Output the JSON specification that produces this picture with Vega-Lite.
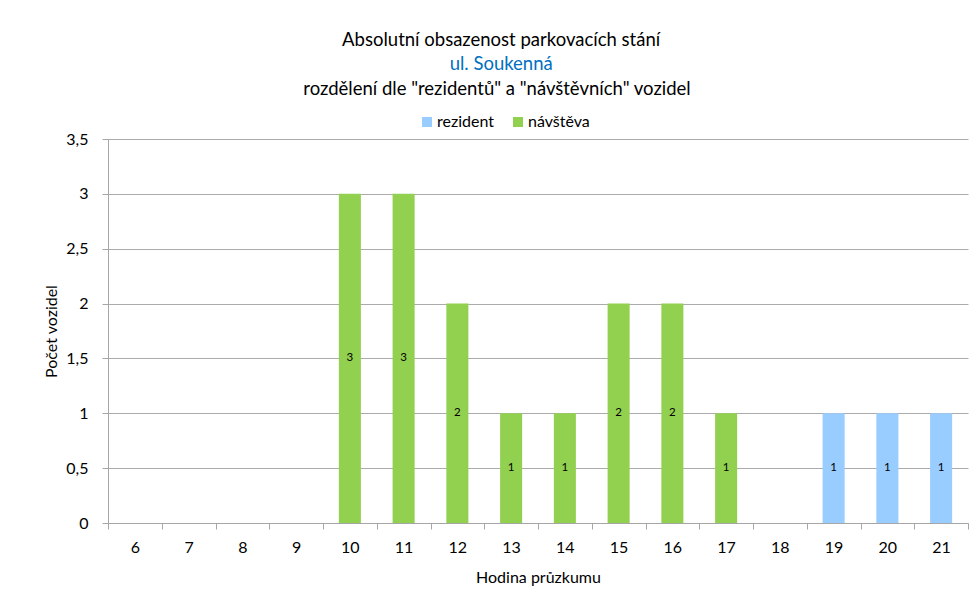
{
  "$schema": "https://vega.github.io/schema/vega-lite/v6.json",
  "background": "white",
  "padding": {"left": 43, "top": 30, "right": 6, "bottom": 10},
  "title": {
    "text": "Absolutní obsazenost parkovacích stání",
    "subtitle": "ul. Soukenná",
    "anchor": "middle",
    "font": "Lato",
    "fontSize": 18.5,
    "fontWeight": "normal",
    "color": "#000000",
    "subtitleFont": "Lato",
    "subtitleFontSize": 18.5,
    "subtitleColor": "#0070C0",
    "subtitlePadding": 6,
    "offset": 6,
    "dx": -5
  },
  "datasets": {
    "counts": [
      {"hour": 6, "type": "rezident", "count": 0},
      {"hour": 6, "type": "návštěva", "count": 0},
      {"hour": 7, "type": "rezident", "count": 0},
      {"hour": 7, "type": "návštěva", "count": 0},
      {"hour": 8, "type": "rezident", "count": 0},
      {"hour": 8, "type": "návštěva", "count": 0},
      {"hour": 9, "type": "rezident", "count": 0},
      {"hour": 9, "type": "návštěva", "count": 0},
      {"hour": 10, "type": "rezident", "count": 0},
      {"hour": 10, "type": "návštěva", "count": 3},
      {"hour": 11, "type": "rezident", "count": 0},
      {"hour": 11, "type": "návštěva", "count": 3},
      {"hour": 12, "type": "rezident", "count": 0},
      {"hour": 12, "type": "návštěva", "count": 2},
      {"hour": 13, "type": "rezident", "count": 0},
      {"hour": 13, "type": "návštěva", "count": 1},
      {"hour": 14, "type": "rezident", "count": 0},
      {"hour": 14, "type": "návštěva", "count": 1},
      {"hour": 15, "type": "rezident", "count": 0},
      {"hour": 15, "type": "návštěva", "count": 2},
      {"hour": 16, "type": "rezident", "count": 0},
      {"hour": 16, "type": "návštěva", "count": 2},
      {"hour": 17, "type": "rezident", "count": 0},
      {"hour": 17, "type": "návštěva", "count": 1},
      {"hour": 18, "type": "rezident", "count": 0},
      {"hour": 18, "type": "návštěva", "count": 0},
      {"hour": 19, "type": "rezident", "count": 1},
      {"hour": 19, "type": "návštěva", "count": 0},
      {"hour": 20, "type": "rezident", "count": 1},
      {"hour": 20, "type": "návštěva", "count": 0},
      {"hour": 21, "type": "rezident", "count": 1},
      {"hour": 21, "type": "návštěva", "count": 0}
    ]
  },
  "resolve": {"legend": {"color": "independent"}},
  "vconcat": [
    {
      "title": {
        "text": "rozdělení dle \"rezidentů\" a \"návštěvních\" vozidel",
        "anchor": "middle",
        "frame": "group",
        "font": "Lato",
        "fontSize": 18.5,
        "fontWeight": "normal",
        "color": "#000000",
        "offset": 16,
        "dx": -41
      },
      "width": 860,
      "height": 384,
      "data": {"name": "counts"},
      "layer": [
        {
          "mark": {"type": "bar", "width": {"band": 0.41}},
          "encoding": {
            "x": {
              "field": "hour",
              "type": "ordinal",
              "scale": {"paddingInner": 0, "paddingOuter": 0},
              "axis": {
                "title": "Hodina průzkumu",
                "labelAngle": 0,
                "tickBand": "extent",
                "tickSize": 6,
                "labelPadding": 10,
                "titlePadding": 14
              }
            },
            "y": {
              "field": "count",
              "type": "quantitative",
              "stack": "zero",
              "scale": {"domain": [0, 3.5], "nice": false},
              "axis": {
                "title": "Počet vozidel",
                "values": [0, 0.5, 1, 1.5, 2, 2.5, 3, 3.5],
                "labelExpr": "replace(format(datum.value, ''), '.', ',')",
                "grid": true,
                "tickSize": 6,
                "labelPadding": 14,
                "titlePadding": 6
              }
            },
            "color": {
              "field": "type",
              "type": "nominal",
              "scale": {"domain": ["rezident", "návštěva"], "range": ["#99CCFF", "#92D050"]},
              "legend": {
                "orient": "none",
                "legendX": 311,
                "legendY": -25,
                "direction": "horizontal",
                "title": null,
                "symbolType": "square",
                "symbolSize": 100,
                "symbolStrokeWidth": 0,
                "symbolOffset": 0,
                "labelOffset": 2,
                "labelFont": "Lato",
                "labelFontSize": 16,
                "labelColor": "#000000",
                "columnPadding": 16,
                "padding": 0
              }
            }
          }
        },
        {
          "transform": [{"filter": "datum.count > 0"}],
          "mark": {"type": "text", "font": "Lato", "fontSize": 11.5, "color": "#000000", "baseline": "middle"},
          "encoding": {
            "x": {"field": "hour", "type": "ordinal"},
            "y": {"field": "count", "type": "quantitative", "scale": {"domain": [0, 7], "nice": false}, "axis": null},
            "text": {"field": "count", "type": "quantitative"}
          }
        }
      ],
      "resolve": {"scale": {"y": "independent"}}
    }
  ],
  "config": {
    "view": {"stroke": null},
    "font": "Lato",
    "axis": {
      "labelFont": "Lato",
      "labelFontSize": 16,
      "labelColor": "#000000",
      "titleFont": "Lato",
      "titleFontSize": 16,
      "titleFontWeight": "normal",
      "titleColor": "#000000",
      "domainColor": "#A6A6A6",
      "tickColor": "#A6A6A6",
      "gridColor": "#ABABAB",
      "grid": false
    }
  }
}
